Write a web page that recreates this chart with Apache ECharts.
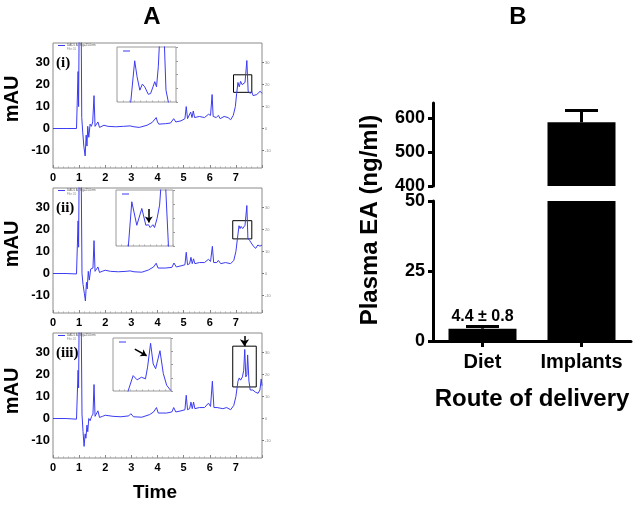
<!DOCTYPE html>
<html><head><meta charset="utf-8">
<script src="https://cdn.jsdelivr.net/npm/echarts@6/dist/echarts.min.js"></script>
<style>html,body{margin:0;padding:0;background:#fff}#c{width:639px;height:506px}</style>
</head><body><div id="c"></div>
<script>
// ---------- data ----------
const timeTicks = [0, 1, 2, 3, 4, 5, 6, 7];
const mauTicks = [-10, 0, 10, 20, 30];
const trace1 = [[0,0],[0.5,0],[0.9,0],[0.93,-0.5],[0.96,26],[0.98,10],[1.0,45],[1.08,45],[1.1,5],[1.14,-2],[1.18,-8],[1.23,-12.5],[1.27,-3],[1.3,-8],[1.33,1],[1.37,-4],[1.42,2],[1.47,1],[1.52,3],[1.57,15],[1.61,1],[1.66,1.5],[1.72,3],[1.78,0.5],[1.85,0.8],[1.95,1.5],[2.1,1],[2.4,0.8],[2.7,1],[2.95,1.2],[3.0,1.8],[3.1,0.8],[3.3,0.5],[3.6,1.5],[3.8,2.8],[3.95,5],[4.0,3],[4.05,2],[4.3,2.2],[4.5,2.5],[4.62,4.5],[4.7,3],[4.9,3.5],[5.05,4.5],[5.1,10],[5.15,4.5],[5.22,5],[5.27,7.5],[5.32,5],[5.37,8],[5.42,5],[5.6,5.5],[5.8,5],[5.95,6.5],[6.03,6],[6.09,15.5],[6.13,5.5],[6.25,5],[6.33,6],[6.4,4.5],[6.55,5.5],[6.7,5],[6.8,4],[6.9,6],[6.98,10],[7.03,16],[7.08,21],[7.13,19],[7.18,21.5],[7.24,20],[7.3,20],[7.35,21],[7.42,31],[7.47,17],[7.55,16],[7.6,17],[7.66,15],[7.72,14.5],[7.8,15.5],[7.87,15],[7.93,17],[8.0,16]];
const trace2 = [[0,0],[0.5,0],[0.9,-0.2],[0.93,-0.5],[0.96,24],[0.98,12],[1.0,45],[1.08,45],[1.11,0],[1.15,-5],[1.2,-9],[1.24,-12.5],[1.28,-4],[1.31,-7],[1.35,1],[1.39,-3],[1.44,2],[1.5,1.5],[1.53,2.5],[1.57,15],[1.61,1],[1.67,1.5],[1.72,3],[1.78,0.5],[1.88,1],[2.0,1.5],[2.2,1],[2.5,0.8],[2.8,1],[2.95,1.2],[3.0,1.8],[3.1,0.8],[3.4,0.6],[3.65,1.6],[3.85,3],[3.95,4.7],[4.02,2.5],[4.3,2.5],[4.55,2.8],[4.63,4.8],[4.72,3],[4.9,3.5],[5.05,4],[5.1,9.7],[5.15,4],[5.23,4.5],[5.28,7.4],[5.33,4.5],[5.38,6.7],[5.43,4.5],[5.6,5],[5.8,5],[5.95,6.5],[6.03,5.5],[6.1,12.4],[6.15,5],[6.27,5],[6.33,6],[6.42,4.5],[6.6,5],[6.8,4.5],[6.92,6],[7.0,10],[7.06,16],[7.12,21.8],[7.16,20.5],[7.2,21.5],[7.26,20.5],[7.3,21],[7.35,22],[7.42,31],[7.46,16],[7.53,15],[7.6,14.5],[7.68,12.3],[7.76,11.5],[7.84,13],[7.92,12.5],[8.0,13]];
const trace3 = [[0,0],[0.5,0],[0.9,-0.3],[0.93,-1],[0.96,22],[0.98,14],[1.0,45],[1.08,45],[1.11,2],[1.15,-6],[1.19,-12.7],[1.23,-7],[1.26,-9],[1.3,-3],[1.33,-6],[1.37,0],[1.42,-1],[1.48,1],[1.53,2],[1.57,15.5],[1.61,1],[1.66,1.5],[1.72,3.5],[1.78,0.5],[1.9,1],[2.0,1.5],[2.3,1],[2.6,0.8],[2.9,1.2],[2.98,2.2],[3.08,0.8],[3.4,0.6],[3.7,1.8],[3.85,3],[3.96,5],[4.03,2.5],[4.35,2.5],[4.55,3],[4.62,5],[4.7,3],[4.9,3.5],[5.05,4],[5.1,10.6],[5.15,4],[5.23,4.5],[5.28,7.5],[5.33,4.5],[5.38,7.5],[5.43,4.5],[5.6,5],[5.8,5],[5.95,7],[6.03,5.5],[6.1,17],[6.16,5],[6.28,5],[6.35,5.5],[6.5,4.5],[6.65,5],[6.8,4],[6.92,6],[7.0,10],[7.08,17],[7.13,18.5],[7.18,17.5],[7.25,19],[7.3,22],[7.34,31.5],[7.38,19],[7.42,20],[7.45,29],[7.5,17],[7.55,13],[7.65,13],[7.75,12],[7.85,11.5],[7.92,13],[7.97,18],[8.0,15]];
const inset1 = [[22,-10],[23.3,0],[30,75],[34,46],[38.7,21.5],[43,32.5],[47,27.6],[53,14],[57,15.4],[61,27.6],[64,37],[67,27.6],[70,64],[73,130],[79.5,130],[83,21.5],[87,0],[88,-10]];
const inset2 = [[20,-10],[21.7,0],[27.7,79],[36.5,37],[45.3,67],[52.4,37],[57,38],[60,33],[64.7,38],[67.6,33],[72,49],[76.5,73],[80.5,130],[86,130],[92,0],[93,-10]];
const inset3 = [[25,-10],[26,0],[34.7,29],[41.6,21],[49,26],[56,23],[59.6,45],[64.8,90],[69.3,51],[73.5,42],[81,76],[86.7,33],[92.5,11],[99.5,1]];
const boxes = [[6.91,16.5,7.61,24.5],[6.88,15.8,7.61,24.1],[6.88,14.4,7.78,33]];
const mainArrow3 = [7.33,37.6,7.33,33];
const insetArrow2 = [57.5,66,57.5,42];
const insetArrow3 = [37.6,79,58,66.5];
const routes = ['Diet', 'Implants'];
const plasmaMean = [4.4, 588];
const plasmaSem = [0.8, 35];

// ---------- chart ----------
const F = '"Liberation Sans", Arial, sans-serif';
const BLUE = '#3b3bf2';
const mainTops = [43, 188, 333];
const insetRects = [[117,47,59,55],[116,190,57,56],[113,338,58,53]];
const traces = [trace1, trace2, trace3];
const insets = [inset1, inset2, inset3];
const romans = ['(i)', '(ii)', '(iii)'];

const grids = [], xAxes = [], yAxes = [], series = [], graphics = [];

mainTops.forEach(t => grids.push({left:53, top:t, width:209, height:125, show:true, borderColor:'#8a8a8a', borderWidth:1, backgroundColor:'transparent', containLabel:false, outerBoundsMode:'none'}));
insetRects.forEach(r => grids.push({left:r[0], top:r[1], width:r[2], height:r[3], show:true, borderColor:'#9a9a9a', borderWidth:1, backgroundColor:'transparent', containLabel:false, outerBoundsMode:'none'}));
grids.push({left:433, top:103, width:198, height:83, containLabel:false, outerBoundsMode:'none'});
grids.push({left:433, top:201, width:198, height:140, containLabel:false, outerBoundsMode:'none'});

// x axes 0..2 main
for (let i = 0; i < 3; i++) {
  xAxes.push({gridIndex:i, type:'value', min:0, max:8, interval:1, position:'bottom',
    axisLine:{show:false, onZero:false},
    axisTick:{show:true, inside:true, length:3, lineStyle:{color:'#888'}},
    minorTick:{show:true, splitNumber:5, length:1.5, lineStyle:{color:'#aaa'}},
    splitLine:{show:false}, minorSplitLine:{show:false},
    axisLabel:{customValues:timeTicks, fontSize:11, fontWeight:'bold', color:'#000', margin:4, fontFamily:F}});
}
// x axes 3..5 insets
for (let i = 0; i < 3; i++) {
  xAxes.push({gridIndex:3+i, type:'value', min:0, max:100, interval:10, position:'bottom',
    axisLine:{show:false, onZero:false}, axisTick:{show:true, inside:true, length:1.5, lineStyle:{color:'#aaa'}},
    axisLabel:{show:false}, splitLine:{show:false}});
}
// x axes 6,7 panel B
xAxes.push({gridIndex:6, type:'category', data:routes, show:false});
xAxes.push({gridIndex:7, type:'category', data:routes,
  axisLine:{show:true, onZero:false, lineStyle:{color:'#000', width:3}},
  axisTick:{show:true, alignWithLabel:true, length:6, lineStyle:{color:'#000', width:3}},
  axisLabel:{interval:0, hideOverlap:false, fontSize:20, fontWeight:'bold', color:'#000', margin:11, fontFamily:F}});

// y axes 0..2 main left
for (let i = 0; i < 3; i++) {
  yAxes.push({gridIndex:i, type:'value', min:-18, max:39,
    axisLine:{show:false, onZero:false}, axisTick:{show:false}, splitLine:{show:false},
    axisLabel:{customValues:mauTicks, fontSize:13, fontWeight:'bold', color:'#000', margin:3, fontFamily:F}});
}
// y axes 3..5 main right
for (let i = 0; i < 3; i++) {
  yAxes.push({gridIndex:i, type:'value', position:'right', min:-18, max:39,
    axisLine:{show:false, onZero:false}, splitLine:{show:false},
    axisTick:{show:true, customValues:mauTicks, length:2, lineStyle:{color:'#777'}},
    axisLabel:{customValues:mauTicks, fontSize:4, color:'#888', margin:3, fontFamily:F}});
}
// y axes 6..8 insets
for (let i = 0; i < 3; i++) {
  yAxes.push({gridIndex:3+i, type:'value', position:'right', min:0, max:100, interval:25,
    axisLine:{show:false, onZero:false}, splitLine:{show:false},
    axisTick:{show:true, length:2, lineStyle:{color:'#999'}}, axisLabel:{show:false}});
}
// y axes 9,10 panel B
const bAxisCommon = {type:'value', splitLine:{show:false},
  axisLine:{show:true, onZero:false, lineStyle:{color:'#000', width:3}},
  axisTick:{show:true, length:5, lineStyle:{color:'#000', width:3}},
  axisLabel:{fontSize:18, fontWeight:'bold', color:'#000', margin:8, fontFamily:F}};
yAxes.push(Object.assign({gridIndex:6, min:400, max:645, interval:100}, bAxisCommon));
yAxes.push(Object.assign({gridIndex:7, min:0, max:50, interval:25}, bAxisCommon));

// main traces
traces.forEach((tr, i) => {
  const b = boxes[i];
  const s = {type:'line', xAxisIndex:i, yAxisIndex:i, data:tr, symbol:'none', showSymbol:false,
    lineStyle:{color:BLUE, width:1}, clip:true, silent:true, z:3,
    markArea:{silent:true, itemStyle:{color:'rgba(0,0,0,0)', borderColor:'#000', borderWidth:1},
      data:[[{coord:[b[0], b[3]]}, {coord:[b[2], b[1]]}]]}};
  if (i === 2) {
    s.markLine = {silent:true, symbol:['none','arrow'], symbolSize:7, label:{show:false},
      lineStyle:{color:'#000', width:1.5, type:'solid'},
      data:[[{coord:[mainArrow3[0], mainArrow3[1]]}, {coord:[mainArrow3[2], mainArrow3[3]]}]]};
  }
  series.push(s);
});
// inset traces
insets.forEach((tr, i) => {
  const s = {type:'line', xAxisIndex:3+i, yAxisIndex:6+i, data:tr, symbol:'none', showSymbol:false,
    lineStyle:{color:BLUE, width:1}, clip:true, silent:true, z:3};
  const arr = i === 1 ? insetArrow2 : (i === 2 ? insetArrow3 : null);
  if (arr) {
    s.markLine = {silent:true, symbol:['none','arrow'], symbolSize:6, label:{show:false},
      lineStyle:{color:'#000', width:1.5, type:'solid'},
      data:[[{coord:[arr[0], arr[1]]}, {coord:[arr[2], arr[3]]}]]};
  }
  series.push(s);
});

// panel B bars
function errRender(params, api) {
  const x = api.value(0), m = api.value(1), e = api.value(2);
  const p0 = api.coord([x, m]), p1 = api.coord([x, m + e]);
  const half = 16.5;
  return {type:'group', children:[
    {type:'line', shape:{x1:p0[0], y1:p0[1], x2:p1[0], y2:p1[1]}, style:{stroke:'#000', lineWidth:3}},
    {type:'line', shape:{x1:p1[0]-half, y1:p1[1], x2:p1[0]+half, y2:p1[1]}, style:{stroke:'#000', lineWidth:3}}
  ]};
}
series.push({type:'bar', xAxisIndex:6, yAxisIndex:9, data:plasmaMean, barWidth:68, itemStyle:{color:'#000'}, clip:true, silent:true});
series.push({type:'bar', xAxisIndex:7, yAxisIndex:10, data:plasmaMean, barWidth:68, itemStyle:{color:'#000'}, clip:true, silent:true,
  label:{show:true, position:'top', distance:4, fontSize:16, fontWeight:'bold', color:'#000', fontFamily:F,
    formatter: p => p.dataIndex === 0 ? plasmaMean[0] + ' \u00b1 ' + plasmaSem[0] : ''}});
series.push({type:'custom', xAxisIndex:6, yAxisIndex:9, renderItem:errRender, z:5, silent:true,
  data:[[1, plasmaMean[1], plasmaSem[1]]]});
series.push({type:'custom', xAxisIndex:7, yAxisIndex:10, renderItem:errRender, z:5, silent:true,
  data:[[0, plasmaMean[0], plasmaSem[0]]]});

// text graphics
function txt(x, y, text, font, opts) {
  return Object.assign({type:'text', x:x, y:y, z:10, silent:true,
    style:{text:text, font:font, fill:'#000', textAlign:'center', textVerticalAlign:'middle', align:'center', verticalAlign:'middle'}}, opts || {});
}
graphics.push(txt(152, 17, 'A', 'bold 24px ' + F));
graphics.push(txt(518, 17, 'B', 'bold 24px ' + F));
graphics.push(txt(155, 493, 'Time', 'bold 19px ' + F));
graphics.push(txt(370, 220, 'Plasma EA (ng/ml)', 'bold 24px ' + F, {rotation: Math.PI / 2}));
graphics.push(txt(532, 399, 'Route of delivery', 'bold 24px ' + F));
const mauY = [99, 244, 391];
mainTops.forEach((t, i) => {
  graphics.push(txt(12, mauY[i], 'mAU', 'bold 20px ' + F, {rotation: Math.PI / 2}));
  const rt = txt(56, t + 20, romans[i], 'bold 15px "Liberation Serif", "Times New Roman", serif');
  rt.style.textAlign = 'left'; rt.style.align = 'left';
  graphics.push(rt);
  // tiny legend
  graphics.push({type:'line', z:10, silent:true, shape:{x1:58, y1:t+2.5, x2:65, y2:t+2.5}, style:{stroke:BLUE, lineWidth:1}});
  const l1 = txt(67, t + 2.5, 'DAD1 A, Sig=254 nm', '3px ' + F); l1.style.textAlign = 'left'; l1.style.align = 'left'; l1.style.fill = '#555';
  const l2 = txt(67, t + 6.5, 'File 01', '3px ' + F); l2.style.textAlign = 'left'; l2.style.align = 'left'; l2.style.fill = '#888';
  graphics.push(l1, l2);
});
insetRects.forEach(r => {
  graphics.push({type:'line', z:10, silent:true, shape:{x1:r[0]+6, y1:r[1]+4, x2:r[0]+13, y2:r[1]+4}, style:{stroke:BLUE, lineWidth:1}});
});

const chart = echarts.init(document.getElementById('c'), null, {renderer:'canvas'});
chart.setOption({
  animation:false,
  backgroundColor:'#fff',
  grid:grids, xAxis:xAxes, yAxis:yAxes, series:series, graphic:{elements:graphics}
});
</script>
</body></html>
